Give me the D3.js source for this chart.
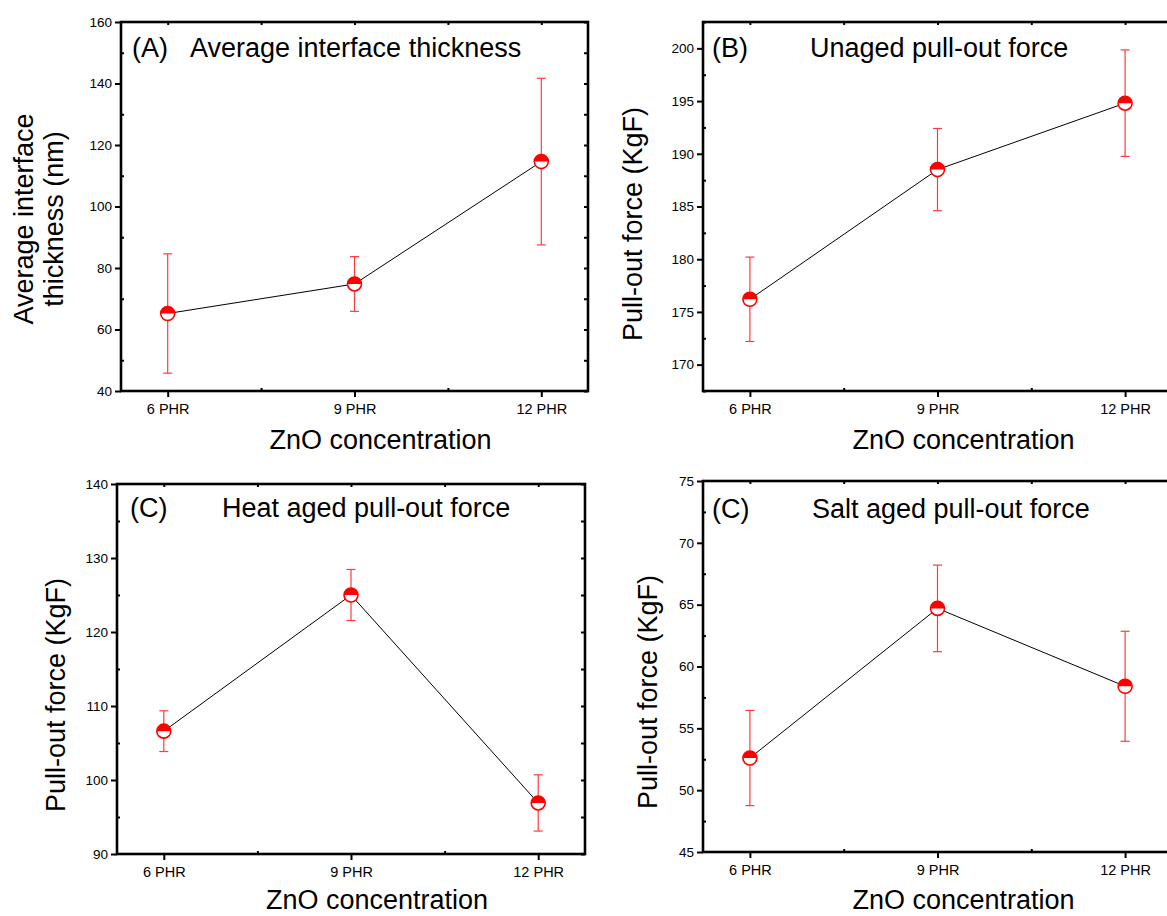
<!DOCTYPE html>
<html>
<head>
<meta charset="utf-8">
<script src="https://cdn.jsdelivr.net/npm/d3@7"></script>
<style>
  html, body { margin: 0; padding: 0; background: #fff; }
  svg { display: block; font-family: "Liberation Sans", Arial, sans-serif; }
</style>
</head>
<body>
<svg id="chart" width="1167" height="916"></svg>
<script>
// ZnO concentration levels shared by every panel
const categories = ["6 PHR", "9 PHR", "12 PHR"];

// (A) average interface thickness, nm
const thicknessMean = [65.2, 74.8, 114.6];
const thicknessErr  = [19.4, 8.9, 27.1];
const thicknessTicks = [40, 60, 80, 100, 120, 140, 160];

// (B) unaged pull-out force, KgF
const unagedMean = [176.2, 188.5, 194.8];
const unagedErr  = [4.0, 3.9, 5.05];
const unagedTicks = [170, 175, 180, 185, 190, 195, 200];

// (C) heat aged pull-out force, KgF
const heatMean = [106.6, 125.0, 96.9];
const heatErr  = [2.75, 3.45, 3.8];
const heatTicks = [90, 100, 110, 120, 130, 140];

// (D) salt aged pull-out force, KgF
const saltMean = [52.6, 64.7, 58.4];
const saltErr  = [3.85, 3.5, 4.45];
const saltTicks = [45, 50, 55, 60, 65, 70, 75];

const svg = d3.select("#chart");
const RED = "#ff0000";
const ERR = "#ff3b3b";
const BIG = "27px";

const panels = [
  {
    box: { left: 121, right: 588, top: 22, bottom: 391 },
    yDomain: [40, 160], yTicks: thicknessTicks, yMinor: 10,
    mean: thicknessMean, err: thicknessErr,
    tag: "(A)", tagX: 132, title: "Average interface thickness", titleX: 190, titleY: 57,
    yTitle: ["Average interface", "thickness (nm)"], yTitleX: [33, 63], yTitleY: 219,
    xTitleY: 449
  },
  {
    box: { left: 703, right: 1172, top: 22, bottom: 391 },
    yDomain: [167.5, 202.5], yTicks: unagedTicks, yMinor: 2.5,
    mean: unagedMean, err: unagedErr,
    tag: "(B)", tagX: 712, title: "Unaged pull-out force", titleX: 810, titleY: 57,
    yTitle: ["Pull-out force (KgF)"], yTitleX: [642], yTitleY: 224,
    xTitleY: 449
  },
  {
    box: { left: 117, right: 585, top: 484, bottom: 854 },
    yDomain: [90, 140], yTicks: heatTicks, yMinor: 5,
    mean: heatMean, err: heatErr,
    tag: "(C)", tagX: 130, title: "Heat aged pull-out force", titleX: 222, titleY: 517,
    yTitle: ["Pull-out force (KgF)"], yTitleX: [65], yTitleY: 695,
    xTitleY: 909
  },
  {
    box: { left: 703, right: 1172, top: 481, bottom: 852 },
    yDomain: [45, 75], yTicks: saltTicks, yMinor: 2.5,
    mean: saltMean, err: saltErr,
    tag: "(C)", tagX: 712, title: "Salt aged pull-out force", titleX: 812, titleY: 518,
    yTitle: ["Pull-out force (KgF)"], yTitleX: [657], yTitleY: 692,
    xTitleY: 909
  }
];

function drawPanel(p) {
  const b = p.box;
  const g = svg.append("g");

  // category axis padded by a quarter step on each side
  const x = d3.scaleLinear().domain([-0.25, categories.length - 0.75]).range([b.left, b.right]);
  const y = d3.scaleLinear().domain(p.yDomain).range([b.bottom, b.top]);

  const xMajor = categories.map((d, i) => i);
  const xMinor = d3.range(0.5, categories.length - 1, 1);
  const yMinor = d3.range(p.yDomain[0], p.yDomain[1] + 1e-9, p.yMinor)
    .filter(v => !p.yTicks.some(t => Math.abs(t - v) < 1e-9));

  const axisStyle = size => sel => {
    sel.select(".domain").remove();
    sel.selectAll("line").attr("stroke", "#000").attr("stroke-width", 2);
    sel.selectAll("text").attr("fill", "#000").style("font-size", size);
  };

  // bottom axis: labelled outward ticks plus small inward minors
  g.append("g").attr("transform", `translate(0,${b.bottom})`)
    .call(d3.axisBottom(x).tickValues(xMajor).tickFormat(i => categories[i]).tickSize(6).tickPadding(7))
    .call(axisStyle("14.5px"));
  g.append("g").attr("transform", `translate(0,${b.bottom})`)
    .call(d3.axisTop(x).tickValues(xMinor).tickFormat("").tickSize(3))
    .call(axisStyle("14px"));

  // left axis
  g.append("g").attr("transform", `translate(${b.left},0)`)
    .call(d3.axisLeft(y).tickValues(p.yTicks).tickFormat(d3.format("d")).tickSize(6).tickPadding(3))
    .call(axisStyle("13.5px"));
  g.append("g").attr("transform", `translate(${b.left},0)`)
    .call(d3.axisRight(y).tickValues(yMinor).tickFormat("").tickSize(3))
    .call(axisStyle("13.5px"));

  // top and right mirror ticks pointing inward
  g.append("g").attr("transform", `translate(0,${b.top})`)
    .call(d3.axisBottom(x).tickValues(xMajor.concat(xMinor)).tickFormat("").tickSize(3))
    .call(axisStyle("13.5px"));
  g.append("g").attr("transform", `translate(${b.right},0)`)
    .call(d3.axisLeft(y).tickValues(p.yTicks.concat(yMinor)).tickFormat("").tickSize(4))
    .call(axisStyle("13.5px"));

  // frame
  g.append("rect")
    .attr("x", b.left).attr("y", b.top)
    .attr("width", b.right - b.left).attr("height", b.bottom - b.top)
    .attr("fill", "none").attr("stroke", "#000").attr("stroke-width", 2.6);

  const pts = p.mean.map((m, i) => ({ i, m, e: p.err[i] }));

  // error bars
  const eb = g.append("g").attr("stroke", ERR).attr("stroke-width", 1.2).attr("fill", "none");
  pts.forEach(d => {
    const cx = x(d.i);
    eb.append("line").attr("x1", cx).attr("x2", cx).attr("y1", y(d.m + d.e)).attr("y2", y(d.m - d.e));
    [d.m + d.e, d.m - d.e].forEach(v => {
      eb.append("line").attr("x1", cx - 4.5).attr("x2", cx + 4.5).attr("y1", y(v)).attr("y2", y(v));
    });
  });

  // connecting line
  g.append("path")
    .datum(pts)
    .attr("d", d3.line().x(d => x(d.i)).y(d => y(d.m)))
    .attr("fill", "none").attr("stroke", "#000").attr("stroke-width", 1);

  // half-filled circle markers
  const r = 7;
  const mk = g.selectAll(".marker").data(pts).join("g")
    .attr("class", "marker")
    .attr("transform", d => `translate(${x(d.i)},${y(d.m)})`);
  mk.append("circle").attr("r", r).attr("fill", "#fff");
  mk.append("path")
    .attr("d", d3.arc()({ innerRadius: 0, outerRadius: r, startAngle: -Math.PI / 2, endAngle: Math.PI / 2 }))
    .attr("fill", RED);
  mk.append("circle").attr("r", r).attr("fill", "none").attr("stroke", RED).attr("stroke-width", 1.6);

  // panel heading
  g.append("text").attr("x", p.tagX).attr("y", p.titleY).text(p.tag)
    .style("font-size", BIG).attr("fill", "#000");
  g.append("text").attr("x", p.titleX).attr("y", p.titleY).text(p.title)
    .style("font-size", BIG).attr("fill", "#000");

  // axis titles
  g.append("text")
    .attr("x", x(1) + 26).attr("y", p.xTitleY)
    .attr("text-anchor", "middle").style("font-size", BIG).attr("fill", "#000")
    .text("ZnO concentration");

  p.yTitle.forEach((t, k) => {
    g.append("text")
      .attr("transform", `translate(${p.yTitleX[k]},${p.yTitleY}) rotate(-90)`)
      .attr("text-anchor", "middle").style("font-size", BIG).attr("fill", "#000")
      .text(t);
  });
}

panels.forEach(drawPanel);
</script>
</body>
</html>
